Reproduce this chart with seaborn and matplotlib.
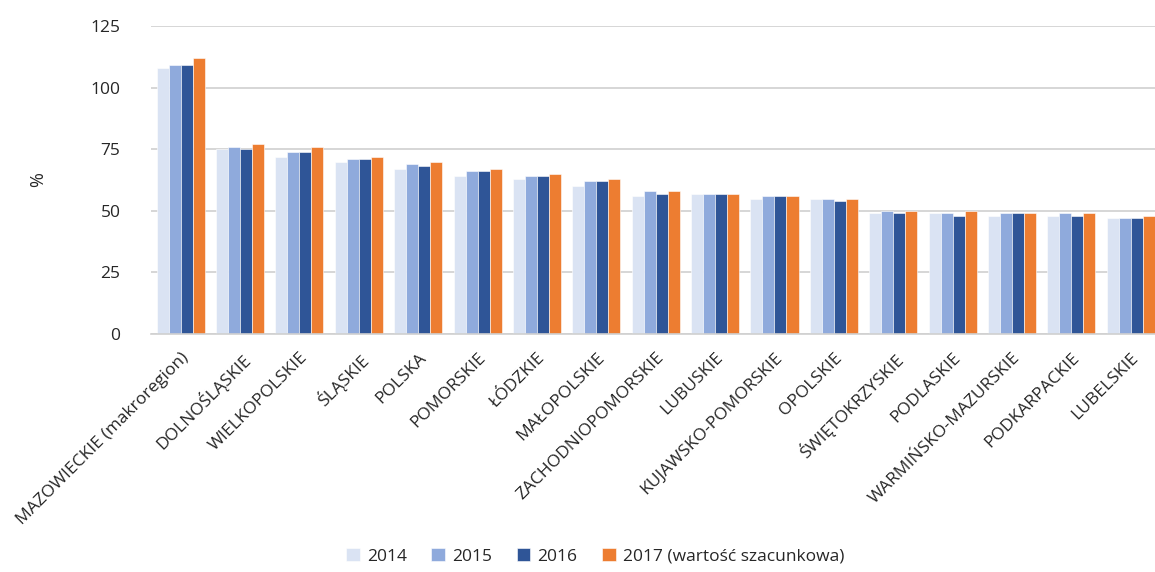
import numpy as np
import pandas as pd
import matplotlib
matplotlib.use("Agg")
import matplotlib.pyplot as plt
import seaborn as sns

regions = ["MAZOWIECKIE (makroregion)", "DOLNOŚLĄSKIE", "WIELKOPOLSKIE", "ŚLĄSKIE",
           "POLSKA", "POMORSKIE", "ŁÓDZKIE", "MAŁOPOLSKIE", "ZACHODNIOPOMORSKIE",
           "LUBUSKIE", "KUJAWSKO-POMORSKIE", "OPOLSKIE", "ŚWIĘTOKRZYSKIE",
           "PODLASKIE", "WARMIŃSKO-MAZURSKIE", "PODKARPACKIE", "LUBELSKIE"]
v2014 = [108, 75, 72, 70, 67, 64, 63, 60, 56, 57, 55, 55, 49, 49, 48, 48, 47]
v2015 = [109, 76, 74, 71, 69, 66, 64, 62, 58, 57, 56, 55, 50, 49, 49, 49, 47]
v2016 = [109, 75, 74, 71, 68, 66, 64, 62, 57, 57, 56, 54, 49, 48, 49, 48, 47]
v2017 = [112, 77, 76, 72, 70, 67, 65, 63, 58, 57, 56, 55, 50, 50, 49, 49, 48]
series = ["2014", "2015", "2016", "2017 (wartość szacunkowa)"]
colors = ["#DAE3F3", "#8FAADC", "#2F5597", "#ED7D31"]

df = pd.DataFrame({
    "region": regions * 4,
    "rok": np.repeat(series, len(regions)),
    "wartosc": v2014 + v2015 + v2016 + v2017,
})

sns.set_style("white")
plt.rcParams["font.family"] = ["Open Sans", "DejaVu Sans"]

fig = plt.figure(figsize=(11.55, 5.72), dpi=100)
ax = fig.add_axes([0.1307, 0.416, 0.874, 0.5385])

sns.barplot(data=df, x="region", y="wartosc", hue="rok", palette=colors,
            width=0.81, saturation=1, ax=ax, edgecolor="white", linewidth=0.4)

ax.set_ylim(0, 125)
ax.set_yticks([0, 25, 50, 75, 100, 125])
ax.yaxis.grid(True, color="#d0d0d0", linewidth=1.2)
ax.set_axisbelow(True)
for s in ["top", "right", "left"]:
    ax.spines[s].set_visible(False)
ax.spines["bottom"].set_color("#d0d0d0")
ax.spines["bottom"].set_linewidth(1.2)
ax.tick_params(axis="both", length=0, colors="#262626")
ax.tick_params(axis="y", pad=22, labelsize=12.5)
ax.tick_params(axis="x", labelsize=12.5)
ax.set_xlabel("")
ax.set_ylabel("%", fontsize=13, color="#262626")
ax.yaxis.set_label_coords(-0.103, 0.5)
plt.setp(ax.get_xticklabels(), rotation=45, ha="right", rotation_mode="anchor")
for lab in ax.get_xticklabels():
    lab.set_y(-0.035)

ax.legend(loc="lower center", bbox_to_anchor=(0.44, -0.8), ncol=4, frameon=False,
          fontsize=12.5, handlelength=0.8, handleheight=0.8, handletextpad=0.4,
          columnspacing=1.4, labelcolor="#262626")

fig.savefig("out.png", dpi=100)
